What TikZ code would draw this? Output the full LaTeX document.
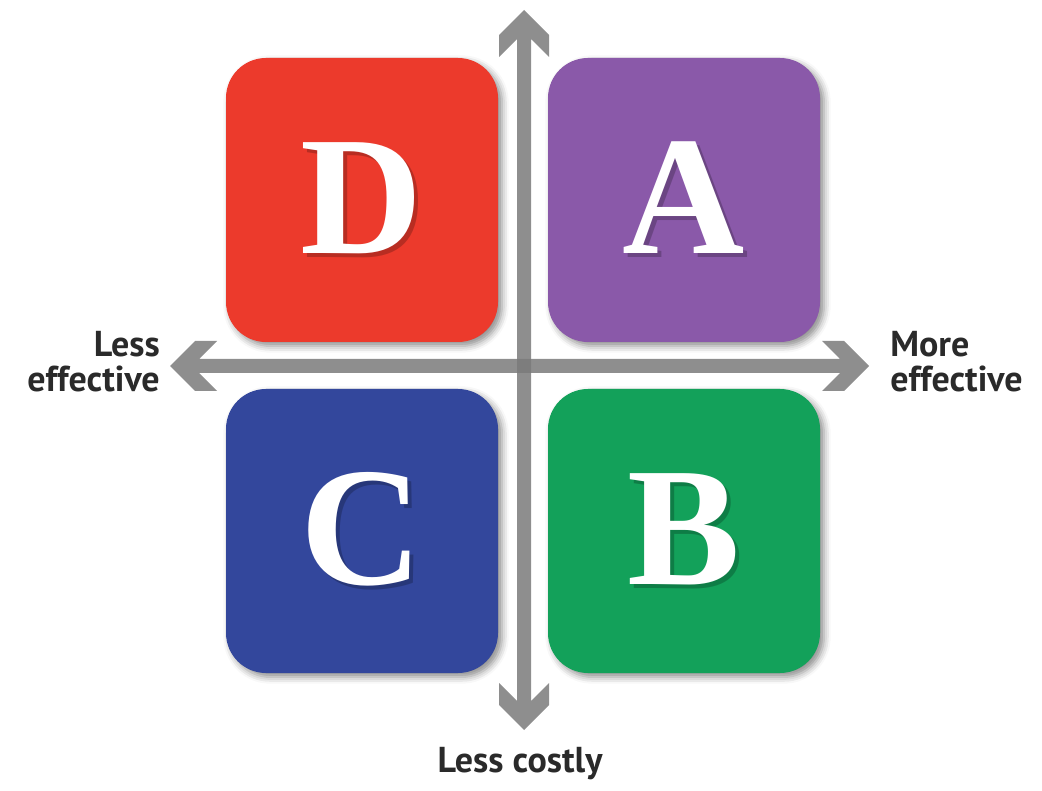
\documentclass[tikz,border=0pt]{standalone}
\usepackage{fontspec}
\setmainfont{Liberation Serif}
\newfontfamily\labelfont{PT Sans}
\usetikzlibrary{shadows.blur}
\definecolor{cD}{HTML}{EC3A2C}
\definecolor{cA}{HTML}{8A59A9}
\definecolor{cC}{HTML}{33479C}
\definecolor{cB}{HTML}{13A15A}
\definecolor{axisgray}{HTML}{7A7A7A}
\definecolor{labeltext}{HTML}{2A2A2A}
\begin{document}
\begin{tikzpicture}[x=0.75pt,y=-0.75pt,
  quad/.style={rounded corners=30pt, minimum width=204pt, minimum height=213pt, inner sep=0pt,
    blur shadow={shadow xshift=3pt, shadow yshift=-3pt, shadow blur radius=5pt, shadow opacity=45}},
  letterfont/.style={font=\fontsize{127}{127}\selectfont\bfseries, inner sep=0pt, anchor=base},
  letter/.style={letterfont, text=white},
  lettershadow/.style={letterfont, text=black, text opacity=0.22},
  axlabel/.style={font=\labelfont\bfseries\fontsize{27}{26.25}\selectfont, text=labeltext, inner sep=0pt},
  axisarrow/.style={fill=axisgray, fill opacity=0.85}]
\useasboundingbox (0,0) rectangle (1042,791);
% quadrant boxes
\node[quad, fill=cD] (D) at (362,200) {};
\node[quad, fill=cA] (A) at (684,200) {};
\node[quad, fill=cC] (C) at (362,531) {};
\node[quad, fill=cB] (B) at (684,531) {};
% letters
\foreach \n/\t in {D/D,A/A,C/C,B/B}{
  \node[lettershadow] (\n s) at ([xshift=3pt,yshift=-3pt]\n.center) [yshift=-40pt] {\t};
  \node[letter] (\n l) at (\n.center) [yshift=-40pt] {\t};
}
% axes
\path[axisarrow] (524,10) -- (549,35) -- (549,57) -- (531,39) -- (531,701) -- (549,683) -- (549,705)
  -- (524,730) -- (499,705) -- (499,683) -- (517,701) -- (517,39) -- (499,57) -- (499,35) -- cycle;
\path[axisarrow] (170,366) -- (195,341) -- (217,341) -- (199,359) -- (840,359) -- (822,341) -- (844,341)
  -- (869,366) -- (844,391) -- (822,391) -- (840,373) -- (199,373) -- (217,391) -- (195,391) -- cycle;
% labels
\node[axlabel, align=right, anchor=base east] (lesseff) at (160,392) {Less\\effective};
\node[axlabel, align=left, anchor=base west] (moreeff) at (890,392) {More\\effective};
\node[axlabel, anchor=base] (lesscost) at (520,772) {Less costly};
\end{tikzpicture}
\end{document}
